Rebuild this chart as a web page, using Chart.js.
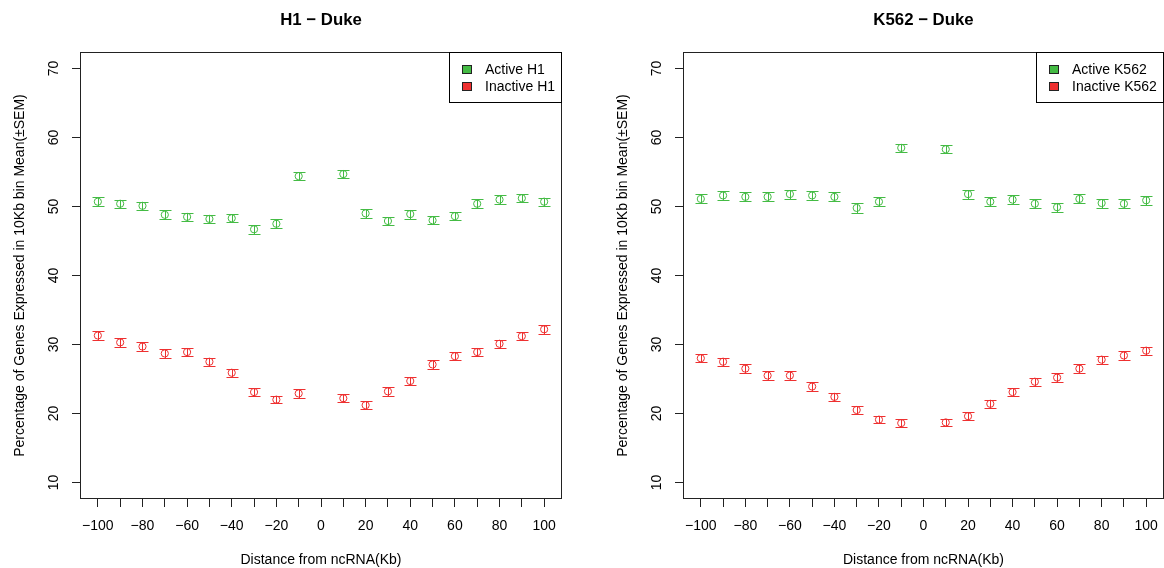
<!DOCTYPE html>
<html>
<head>
<meta charset="utf-8">
<script src="https://cdn.jsdelivr.net/npm/chart.js@4/dist/chart.umd.min.js"></script>
<style>
  html, body { margin: 0; padding: 0; background: #ffffff; }
  #wrap { position: relative; width: 1164px; height: 568px; overflow: hidden; background: #fff; }
  #c1 { position: absolute; left: 0; top: 0; }
  #c2 { position: absolute; left: 603px; top: 0; }
</style>
</head>
<body>
<div id="wrap">
  <canvas id="c1" width="582" height="568"></canvas>
  <canvas id="c2" width="567" height="568"></canvas>
</div>
<script>
// ---------- data ----------
const distances = [-100, -90, -80, -70, -60, -50, -40, -30, -20, -10, 10, 20, 30, 40, 50, 60, 70, 80, 90, 100];

const h1Active      = [50.7, 50.4, 50.1, 48.8, 48.5, 48.2, 48.3, 46.7, 47.5, 54.4, 54.7, 49.0, 47.9, 48.9, 48.0, 48.6, 50.4, 51.0, 51.2, 50.7];
const h1ActiveSem   = [0.65, 0.6, 0.6, 0.65, 0.6, 0.6, 0.6, 0.65, 0.65, 0.6, 0.6, 0.65, 0.6, 0.65, 0.6, 0.6, 0.65, 0.6, 0.6, 0.6];
const h1Inactive    = [31.3, 30.3, 29.7, 28.7, 28.9, 27.5, 25.9, 23.1, 22.0, 22.9, 22.2, 21.2, 23.2, 24.7, 27.1, 28.3, 28.9, 30.1, 31.2, 32.2];
const h1InactiveSem = [0.6, 0.6, 0.6, 0.6, 0.6, 0.6, 0.6, 0.6, 0.55, 0.6, 0.55, 0.55, 0.6, 0.6, 0.6, 0.6, 0.6, 0.6, 0.6, 0.65];

const k562Active      = [51.1, 51.6, 51.4, 51.4, 51.8, 51.6, 51.4, 49.8, 50.7, 58.5, 58.3, 51.8, 50.7, 51.0, 50.4, 49.9, 51.1, 50.5, 50.4, 50.9];
const k562ActiveSem   = [0.65, 0.65, 0.65, 0.65, 0.65, 0.65, 0.65, 0.7, 0.65, 0.6, 0.6, 0.65, 0.65, 0.65, 0.65, 0.65, 0.65, 0.65, 0.65, 0.65];
const k562Inactive    = [28.0, 27.5, 26.5, 25.5, 25.5, 23.9, 22.4, 20.5, 19.1, 18.6, 18.7, 19.6, 21.4, 23.1, 24.6, 25.2, 26.5, 27.8, 28.4, 29.1];
const k562InactiveSem = [0.6, 0.6, 0.6, 0.6, 0.6, 0.6, 0.6, 0.6, 0.55, 0.55, 0.55, 0.6, 0.6, 0.6, 0.6, 0.6, 0.6, 0.6, 0.6, 0.6];

const xTickValues = [-100, -90, -80, -70, -60, -50, -40, -30, -20, -10, 0, 10, 20, 30, 40, 50, 60, 70, 80, 90, 100];
const xTickLabels = ['\u2212100', '', '\u221280', '', '\u221260', '', '\u221240', '', '\u221220', '', '0', '', '20', '', '40', '', '60', '', '80', '', '100'];
const yTickValues = [10, 20, 30, 40, 50, 60, 70];
const yTickLabels = ['10', '20', '30', '40', '50', '60', '70'];

const titles = ['H1 \u2212 Duke', 'K562 \u2212 Duke'];
const xAxisTitle = 'Distance from ncRNA(Kb)';
const yAxisTitle = 'Percentage of Genes Expressed in 10Kb bin Mean(\u00b1SEM)';

// ---------- styling ----------
const GREEN = '#44bb44';
const RED = '#ee3030';
const FONT = '"Liberation Sans", Arial, Helvetica, sans-serif';

function toPoints(xs, ys) { return xs.map((x, i) => ({ x: x, y: ys[i] })); }

const rPlugin = {
  id: 'rstyle',
  beforeDatasetsDraw(chart) {
    const ctx = chart.ctx;
    const xs = chart.scales.x, ys = chart.scales.y;
    ctx.save();
    chart.data.datasets.forEach(ds => {
      ctx.strokeStyle = ds.borderColor;
      ctx.lineWidth = 1;
      ds.data.forEach((p, i) => {
        const s = ds.sem[i];
        const px = Math.round(xs.getPixelForValue(p.x)) + 0.5;
        const yt = Math.round(ys.getPixelForValue(p.y + s)) + 0.5;
        const yb = Math.round(ys.getPixelForValue(p.y - s)) + 0.5;
        ctx.beginPath();
        ctx.moveTo(px, yt); ctx.lineTo(px, yb);
        ctx.moveTo(px - 6, yt); ctx.lineTo(px + 6, yt);
        ctx.moveTo(px - 6, yb); ctx.lineTo(px + 6, yb);
        ctx.stroke();
      });
    });
    ctx.restore();
  },
  afterDraw(chart) {
    const ctx = chart.ctx;
    const ca = chart.chartArea;
    const ys = chart.scales.y;
    ctx.save();
    // box
    ctx.strokeStyle = '#222';
    ctx.lineWidth = 1;
    ctx.strokeRect(ca.left + 0.5, ca.top + 0.5, ca.right - ca.left - 1, ca.bottom - ca.top - 1);
    // rotated y tick labels (R style)
    ctx.fillStyle = '#000';
    ctx.font = '14px ' + FONT;
    ctx.textAlign = 'center';
    ctx.textBaseline = 'middle';
    ys.ticks.forEach((t, i) => {
      const py = ys.getPixelForValue(t.value);
      ctx.save();
      ctx.translate(ca.left - 26, py);
      ctx.rotate(-Math.PI / 2);
      ctx.fillText(yTickLabels[i], 0, 0);
      ctx.restore();
    });
    // legend
    const items = chart.data.datasets.map(d => ({ label: d.label, color: d.borderColor }));
    ctx.font = '14px ' + FONT;
    let w = 0;
    items.forEach(it => { w = Math.max(w, ctx.measureText(it.label).width); });
    const boxW = Math.round(36 + w + 7);
    const boxH = 51;
    const left = ca.right - boxW;
    const top = ca.top;
    ctx.fillStyle = '#fff';
    ctx.fillRect(left, top, boxW, boxH);
    ctx.strokeStyle = '#000';
    ctx.strokeRect(left + 0.5, top + 0.5, boxW - 1, boxH - 1);
    items.forEach((it, i) => {
      const cy = top + 17.5 + i * 17;
      ctx.fillStyle = it.color;
      ctx.fillRect(left + 13, Math.round(cy - 4.5), 10, 9);
      ctx.strokeStyle = '#222';
      ctx.strokeRect(left + 13.5, Math.round(cy - 4.5) + 0.5, 9, 8);
      ctx.fillStyle = '#000';
      ctx.textAlign = 'left';
      ctx.textBaseline = 'middle';
      ctx.fillText(it.label, left + 36, cy + 0.5);
    });
    ctx.restore();
  }
};

function makeChart(canvasId, title, activeLabel, inactiveLabel, act, actSem, inact, inactSem, rightPad) {
  return new Chart(document.getElementById(canvasId), {
    type: 'scatter',
    data: {
      datasets: [
        {
          label: activeLabel,
          data: toPoints(distances, act),
          sem: actSem,
          borderColor: GREEN,
          backgroundColor: 'rgba(0,0,0,0)',
          pointStyle: 'circle',
          pointRadius: 3.6,
          pointBorderWidth: 1,
          showLine: false
        },
        {
          label: inactiveLabel,
          data: toPoints(distances, inact),
          sem: inactSem,
          borderColor: RED,
          backgroundColor: 'rgba(0,0,0,0)',
          pointStyle: 'circle',
          pointRadius: 3.6,
          pointBorderWidth: 1,
          showLine: false
        }
      ]
    },
    options: {
      responsive: false,
      animation: false,
      devicePixelRatio: 1,
      events: [],
      layout: { autoPadding: false, padding: { left: 0, right: rightPad, top: 0, bottom: 0 } },
      plugins: {
        legend: { display: false },
        tooltip: { enabled: false },
        title: {
          display: true,
          text: title,
          fullSize: false,
          color: '#000',
          font: { family: FONT, size: 16.8, weight: 'bold', lineHeight: 1.2 },
          padding: { top: 10.5, bottom: 21.34 }
        }
      },
      scales: {
        x: {
          type: 'linear',
          min: -108,
          max: 108,
          afterFit(scale) { scale.height = 69; },
          afterBuildTicks(scale) { scale.ticks = xTickValues.map(v => ({ value: v })); },
          grid: { drawOnChartArea: false, drawTicks: true, tickLength: 8, color: '#222', tickColor: '#222' },
          border: { display: false },
          ticks: {
            autoSkip: false,
            maxRotation: 0,
            minRotation: 0,
            padding: 11,
            color: '#000',
            font: { family: FONT, size: 14 },
            callback: (v, i) => xTickLabels[i]
          },
          title: {
            display: true,
            text: xAxisTitle,
            color: '#000',
            font: { family: FONT, size: 14, lineHeight: 1.2 },
            padding: { top: 0, bottom: -1 }
          }
        },
        y: {
          type: 'linear',
          min: 7.6,
          max: 72.4,
          afterFit(scale) { scale.width = 80; },
          afterBuildTicks(scale) { scale.ticks = yTickValues.map(v => ({ value: v })); },
          grid: { drawOnChartArea: false, drawTicks: true, tickLength: 8, color: '#222', tickColor: '#222' },
          border: { display: false },
          ticks: { display: false },
          title: {
            display: true,
            text: yAxisTitle,
            color: '#000',
            font: { family: FONT, size: 14, lineHeight: 1.2 },
            padding: { top: 12, bottom: 0 }
          }
        }
      }
    },
    plugins: [rPlugin]
  });
}

makeChart('c1', titles[0], 'Active H1', 'Inactive H1', h1Active, h1ActiveSem, h1Inactive, h1InactiveSem, 20);
makeChart('c2', titles[1], 'Active K562', 'Inactive K562', k562Active, k562ActiveSem, k562Inactive, k562InactiveSem, 6);
</script>
</body>
</html>
